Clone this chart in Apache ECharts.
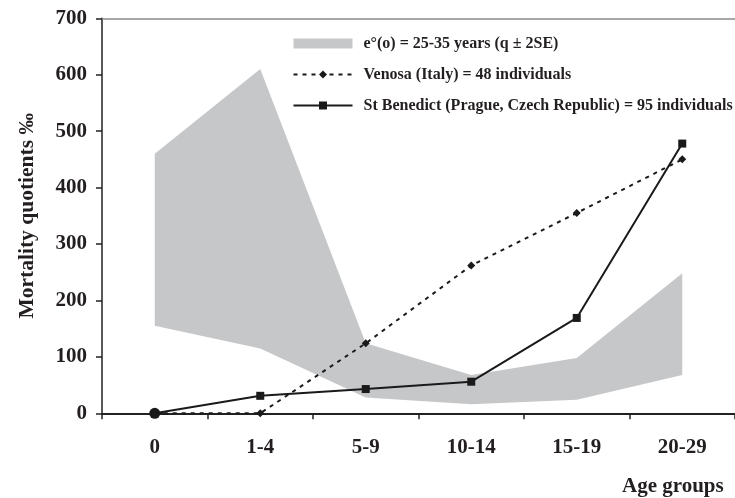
<!DOCTYPE html>
<html>
<head>
<meta charset="utf-8">
<script src="https://cdn.jsdelivr.net/npm/echarts@6/dist/echarts.min.js"></script>
<style>
html,body{margin:0;padding:0;background:#fff;}
#c{width:735px;height:498px;}
</style>
</head>
<body>
<div id="c"></div>
<script>
var categories = ['0', '1-4', '5-9', '10-14', '15-19', '20-29'];
var bandLow = [155, 115, 28, 16, 24, 68];
var bandHigh = [460, 610, 124, 68, 98, 248];
var venosa = [0, 0, 124, 262, 355, 450];
var benedict = [0, 31, 43, 56, 169, 478];
var yTicks = { min: 0, max: 700, interval: 100 };

var bandName = 'e°(o) = 25-35 years (q ± 2SE)';
var venosaName = 'Venosa (Italy) = 48 individuals';
var benedictName = 'St Benedict (Prague, Czech Republic) = 95 individuals';

var FONT = 'Liberation Serif';
var TXT = '#231f20';
var BAND = '#c6c7c9';

var bandDiff = bandHigh.map(function (h, i) { return h - bandLow[i]; });
var benedictData = benedict.map(function (v, i) {
  return i === 0 ? { value: v, symbol: 'circle', symbolSize: 11 } : v;
});

var chart = echarts.init(document.getElementById('c'), null, { renderer: 'canvas' });
chart.setOption({
  animation: false,
  backgroundColor: '#fff',
  grid: { left: 102, right: -3, top: 18.3, bottom: 84.7, containLabel: false },
  legend: {
    orient: 'vertical',
    left: 287.5,
    top: 28.5,
    itemWidth: 59,
    itemHeight: 10,
    itemGap: 11,
    selectedMode: false,
    textStyle: { fontFamily: FONT, fontWeight: 'bold', fontSize: 16, color: TXT, lineHeight: 20, padding: [0, 0, 0, 6] },
    data: [
      { name: bandName, icon: 'rect', itemStyle: { color: BAND } },
      { name: venosaName },
      { name: benedictName }
    ]
  },
  xAxis: [{
    type: 'category',
    data: categories,
    boundaryGap: true,
    axisLine: { show: true, lineStyle: { color: '#222', width: 2 } },
    axisTick: { show: true, length: 6, inside: false, lineStyle: { color: '#222', width: 1.5 } },
    axisLabel: { fontFamily: FONT, fontWeight: 'bold', fontSize: 21, color: TXT, margin: 24 },
    splitLine: { show: false },
    name: 'Age groups',
    nameLocation: 'end',
    nameGap: -113,
    nameTextStyle: { fontFamily: FONT, fontWeight: 'bold', fontSize: 21, color: TXT, align: 'left', verticalAlign: 'top', padding: [63, 0, 0, 0] }
  }, {
    type: 'category',
    data: categories,
    position: 'top',
    axisLine: { show: true, lineStyle: { color: '#8a8a8a', width: 1.5 } },
    axisTick: { show: false },
    axisLabel: { show: false }
  }],
  yAxis: {
    type: 'value',
    min: yTicks.min,
    max: yTicks.max,
    interval: yTicks.interval,
    axisLine: { show: true, lineStyle: { color: '#222', width: 1.5 } },
    axisTick: { show: true, length: 6, inside: false, lineStyle: { color: '#222', width: 1.5 } },
    axisLabel: { fontFamily: FONT, fontWeight: 'bold', fontSize: 21, color: TXT, margin: 15 },
    splitLine: { show: false },
    name: 'Mortality quotients ‰',
    nameLocation: 'middle',
    nameGap: 64,
    nameTextStyle: { fontFamily: FONT, fontWeight: 'bold', fontSize: 21.5, color: TXT }
  },
  series: [
    {
      name: 'bandLow',
      type: 'line',
      data: bandLow,
      stack: 'band',
      symbol: 'none',
      lineStyle: { width: 0, opacity: 0 },
      silent: true,
      z: 1
    },
    {
      name: bandName,
      type: 'line',
      data: bandDiff,
      stack: 'band',
      symbol: 'none',
      color: BAND,
      lineStyle: { width: 0, opacity: 0 },
      areaStyle: { color: BAND, opacity: 1 },
      silent: true,
      z: 1
    },
    {
      name: venosaName,
      type: 'line',
      data: venosa,
      symbol: 'diamond',
      symbolSize: 8,
      color: '#1a1a1a',
      lineStyle: { color: '#1a1a1a', width: 2, type: [4, 5] },
      itemStyle: { color: '#1a1a1a' },
      z: 3
    },
    {
      name: benedictName,
      type: 'line',
      data: benedictData,
      symbol: 'rect',
      symbolSize: 8,
      color: '#1a1a1a',
      lineStyle: { color: '#1a1a1a', width: 2 },
      itemStyle: { color: '#1a1a1a' },
      z: 4
    }
  ]
});
</script>
</body>
</html>
